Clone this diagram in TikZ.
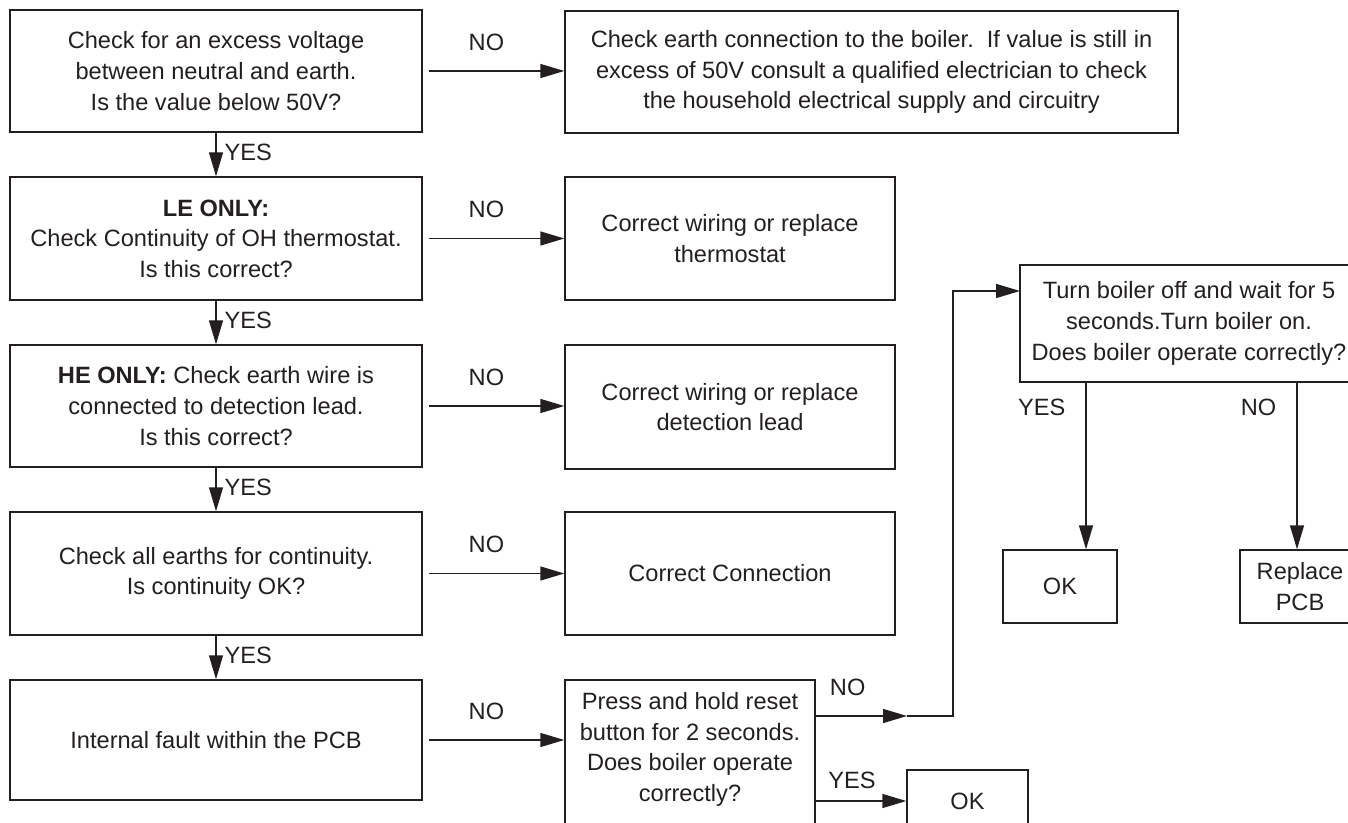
\documentclass[tikz,border=0pt]{standalone}
\usepackage{fontspec}
\setmainfont{Liberation Sans}
\usetikzlibrary{arrows.meta,calc}

\begin{document}
\begin{tikzpicture}[x=0.5pt,y=-0.5pt,>={Triangle[length=12pt,width=7pt]},
  font=\fontsize{11.8pt}{15.3pt}\selectfont]
\definecolor{inkcolor}{RGB}{35,31,32}
\tikzset{
  stepbox/.style={draw=inkcolor,line width=0.7pt,text=inkcolor,align=center,inner sep=0pt},
  flow/.style={->,draw=inkcolor,line width=0.7pt},
  answer/.style={text=inkcolor,inner sep=1pt}
}

% Page frame: the source sheet is cut off on the right and at the bottom.
\useasboundingbox (0,0) rectangle (1348,823);
\clip (0,0) rectangle (1348,823);

% Left column: the checks, top to bottom.
\node[stepbox,minimum width=206pt,minimum height=61pt] (volt) at (216,71)
  {Check for an excess voltage\\between neutral and earth.\\Is the value below 50V?};
\node[stepbox,minimum width=206pt,minimum height=61.5pt] (ohstat) at (216,238.5)
  {\textbf{LE ONLY:}\\Check Continuity of OH thermostat.\\Is this correct?};
\node[stepbox,minimum width=206pt,minimum height=61pt] (hewire) at (216,406)
  {\textbf{HE ONLY:} Check earth wire is\\connected to detection lead.\\Is this correct?};
\node[stepbox,minimum width=206pt,minimum height=61.5pt] (earths) at (216,573.5)
  {Check all earths for continuity.\\Is continuity OK?};
\node[stepbox,minimum width=206pt,minimum height=60pt] (pcb) at (216,740)
  {Internal fault within the PCB};

% Right column: what to do on a NO.
\node[stepbox,minimum width=306.5pt,minimum height=61pt] (supply) at (871.5,72)
  {Check earth connection to the boiler.\ \ If value is still in\\excess of 50V consult a qualified electrician to check\\the household electrical supply and circuitry};
\node[stepbox,minimum width=165pt,minimum height=61.5pt] (fixstat) at (730,238.5)
  {Correct wiring or replace\\thermostat};
\node[stepbox,minimum width=165pt,minimum height=62pt] (fixlead) at (730,407)
  {Correct wiring or replace\\detection lead};
\node[stepbox,minimum width=165pt,minimum height=61.5pt] (fixconn) at (730,573.5)
  {Correct Connection};

% Reset branch (its box runs off the bottom of the sheet).
\node[stepbox,minimum width=125pt,minimum height=80pt] (reset) at (690,760)
  {Press and hold reset\\button for 2 seconds.\\Does boiler operate\\correctly?\\[-2.3pt]};
\node[stepbox,minimum width=60.5pt,minimum height=31pt] (okreset) at (967.5,801) {OK};
\node[stepbox,minimum width=169pt,minimum height=58.5pt] (power) at (1189,323.5)
  {Turn boiler off and wait for 5\\seconds.Turn boiler on.\\Does boiler operate correctly?};
\node[stepbox,minimum width=57pt,minimum height=36.5pt] (okpower) at (1060,586.5) {OK};
\node[stepbox,minimum width=60pt,minimum height=36.5pt] (newpcb) at (1300,586.5)
  {Replace\\PCB};

% YES arrows down the left column.
\draw[flow] (volt) -- (ohstat) node[answer,pos=0.45,right=3pt] {YES};
\draw[flow] (ohstat) -- (hewire) node[answer,pos=0.45,right=3pt] {YES};
\draw[flow] (hewire) -- (earths) node[answer,pos=0.45,right=3pt] {YES};
\draw[flow] (earths) -- (pcb) node[answer,pos=0.45,right=3pt] {YES};

% NO arrows across.
\draw[flow,shorten <=3pt] (volt) -- (volt -| supply.west) node[answer,pos=0.45,above=9pt] {NO};
\draw[flow,shorten <=3pt] (ohstat) -- (fixstat) node[answer,pos=0.45,above=9pt] {NO};
\draw[flow,shorten <=3pt] (hewire) -- (hewire -| fixlead.west) node[answer,pos=0.45,above=9pt] {NO};
\draw[flow,shorten <=3pt] (earths) -- (fixconn) node[answer,pos=0.45,above=9pt] {NO};
\draw[flow,shorten <=3pt] (pcb.east) -- (pcb.east -| reset.west)
  node[answer,pos=0.45,above=9pt] {NO};

% Out of the reset box.
\coordinate (nohead) at (907,716);
\coordinate (noturn) at (953,716);
\coordinate (powerin) at (1020,291);
\draw[flow] (reset.east |- nohead) -- (nohead)
  node[answer,pos=0.35,above=9pt] {NO};
\draw[flow] (nohead) -- (noturn) |- (powerin);
\draw[flow] (reset.east |- okreset) -- (okreset)
  node[answer,pos=0.4,above=5pt] {YES};

% Out of the power-cycle box.
\coordinate (pyes) at (1086,382);
\coordinate (pno) at (1297,382);
\draw[flow] (pyes) -- (pyes |- okpower.north)
  node[answer,pos=0.15,left=9pt] {YES};
\draw[flow] (pno) -- (pno |- newpcb.north)
  node[answer,pos=0.15,left=9pt] {NO};
\end{tikzpicture}
\end{document}
